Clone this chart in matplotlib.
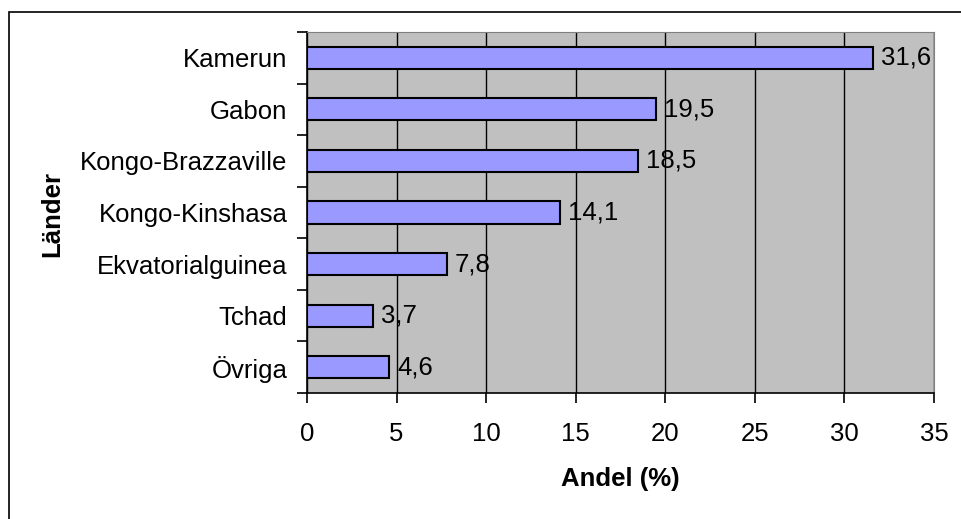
import matplotlib.pyplot as plt
from matplotlib.patches import Rectangle

countries = ['Kamerun', 'Gabon', 'Kongo-Brazzaville', 'Kongo-Kinshasa',
             'Ekvatorialguinea', 'Tchad', 'Övriga']
shares = [31.6, 19.5, 18.5, 14.1, 7.8, 3.7, 4.6]
value_labels = ['31,6', '19,5', '18,5', '14,1', '7,8', '3,7', '4,6']
xticks = [0, 5, 10, 15, 20, 25, 30, 35]

plt.rcParams['font.family'] = ['Liberation Sans', 'DejaVu Sans']
fs = 18.5

fig = plt.figure(figsize=(9.62, 5.19), dpi=100)
fig.patch.set_facecolor('white')
ax = fig.add_axes([307 / 962, 1 - 393 / 519, (934 - 307) / 962, (393 - 32) / 519])

# outer chart border (right and bottom edges run off the picture)
fig.patches.append(Rectangle((9 / 962, -10 / 519), 970 / 962, (519 - 12 + 10) / 519,
                             transform=fig.transFigure, fill=False,
                             edgecolor='black', linewidth=1.2))

ax.set_facecolor('#c0c0c0')
ypos = list(range(len(countries)))
ax.barh(ypos, shares, height=0.43, color='#9999ff', edgecolor='black',
        linewidth=1.5, zorder=3)

for y, v, lab in zip(ypos, shares, value_labels):
    ax.text(v + 0.45, y, lab, va='center', ha='left', fontsize=fs, zorder=4)

ax.set_ylim(len(countries) - 0.5, -0.5)
ax.set_xlim(0, 35)
ax.set_xticks(xticks)
ax.set_xticklabels([str(t) for t in xticks], fontsize=fs)

ax.set_yticks([y for y in ypos])
ax.set_yticklabels(countries, fontsize=fs)
ax.set_yticks([y - 0.5 for y in ypos] + [len(countries) - 0.5], minor=True)
ax.tick_params(axis='y', which='major', length=0, pad=14)
ax.tick_params(axis='y', which='minor', length=7, width=1.2, direction='out')
ax.tick_params(axis='x', length=7, width=1.2, direction='out', pad=14)

ax.grid(axis='x', color='black', linewidth=1.0, zorder=1)
ax.set_axisbelow(True)

ax.spines['top'].set_color('#808080')
ax.spines['right'].set_color('#808080')
ax.spines['left'].set_linewidth(1.2)
ax.spines['bottom'].set_linewidth(1.2)

ax.set_xlabel('Andel (%)', fontsize=fs, fontweight='bold', labelpad=15)
ax.set_ylabel('Länder', fontsize=fs, fontweight='bold', va='center')
ax.yaxis.set_label_coords(-(307 - 52) / 627, 1 - (214 - 32) / 361)

plt.savefig('out.png', dpi=100)
